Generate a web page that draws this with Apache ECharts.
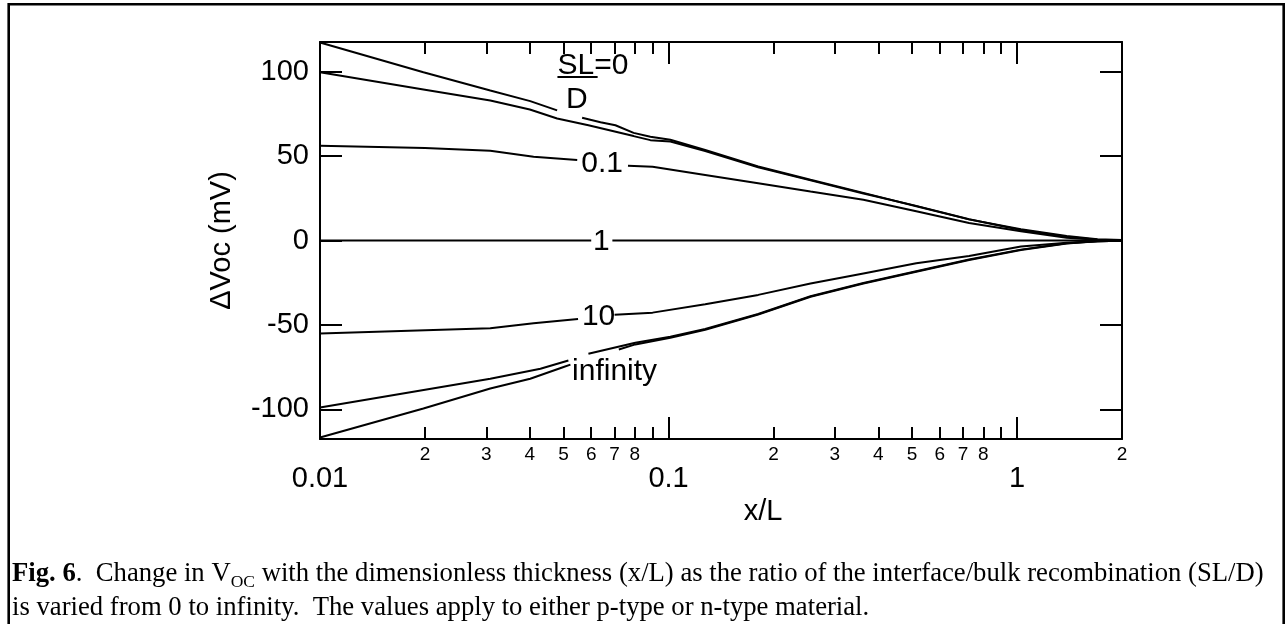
<!DOCTYPE html>
<html><head><meta charset="utf-8">
<script src="https://cdn.jsdelivr.net/npm/echarts@6/dist/echarts.min.js"></script>
<style>html,body{margin:0;padding:0;background:#fff}#c{width:1288px;height:624px}</style>
</head><body><div id="c"></div><script>
// ---- data ----
// null marks a break in the curve where an inline label sits
const x_c0 = [0.01, 0.0198, 0.0308, 0.0401, 0.0479, 0.052, 0.0565, 0.0638, 0.0704, 0.0794, 0.0887, 0.1012, 0.1274, 0.1808, 0.2555, 0.3623, 0.5137, 0.7282, 1.0257, 1.3876, 1.7, 2];
const y_c0 = [117.2, 99.6, 88.8, 82.5, 77.0, null, 72.7, 70.0, 68.2, 63.7, 61.4, 59.6, 53.6, 43.8, 36.0, 28.2, 20.3, 12.5, 6.6, 2.6, 0.7, 0.3];
const x_c1 = [0.01, 0.02, 0.0308, 0.04, 0.0479, 0.0589, 0.0794, 0.0887, 0.1012, 0.1274, 0.1808, 0.2555, 0.3623, 0.5137, 0.7282, 1.0257, 1.3876, 1.7, 2];
const y_c1 = [99.6, 89.3, 82.9, 77.5, 72.2, 68.2, 61.8, 59.4, 58.6, 53.0, 43.4, 35.6, 27.8, 20.5, 12.6, 6.2, 2.2, 0.5, 0.2];
const x_c2 = [0.01, 0.02, 0.0308, 0.041, 0.0547, 0.066, 0.0765, 0.09, 0.1274, 0.1808, 0.2555, 0.3623, 0.5137, 0.7282, 1.0257, 1.3876, 1.7, 2];
const y_c2 = [56.1, 54.8, 53.1, 49.6, 47.6, null, 44.3, 43.7, 38.8, 33.9, 29.0, 24.1, 17.3, 10.4, 5.5, 1.6, 0.4, 0.2];
const x_c3 = [0.01, 0.0600, 0.0645, 0.0690, 2];
const y_c3 = [0, 0, null, 0, 0];
const x_c4 = [0.01, 0.0308, 0.041, 0.055, 0.062, 0.0700, 0.09, 0.1274, 0.1808, 0.2555, 0.3623, 0.5137, 0.7282, 1.0257, 1.3876, 1.7, 2];
const y_c4 = [-55.0, -52.0, -49.0, -46.5, null, -44.0, -42.7, -37.8, -32.2, -25.5, -19.5, -13.5, -9.2, -3.6, -1.3, -0.4, -0.2];
const x_c5 = [0.01, 0.0308, 0.0429, 0.0516, 0.055, 0.0589, 0.0803, 0.1012, 0.1274, 0.1808, 0.2555, 0.3623, 0.5137, 0.7282, 1.0257, 1.3876, 1.7, 2];
const y_c5 = [-98.8, -81.8, -75.9, -71.0, null, -67.0, -60.5, -57.0, -52.4, -43.5, -33.0, -25.2, -18.2, -11.3, -5.4, -1.6, -0.4, -0.2];
const x_c6 = [0.01, 0.0198, 0.0308, 0.0401, 0.05, 0.0523, 0.062, 0.072, 0.0803, 0.1012, 0.1274, 0.1808, 0.2555, 0.3623, 0.5137, 0.7282, 1.0257, 1.3876, 1.7, 2];
const y_c6 = [-116.6, -99.4, -87.6, -81.8, -74.9, -73.5, null, -64.5, -61.5, -57.6, -52.8, -43.8, -33.3, -25.5, -18.5, -11.6, -5.6, -1.8, -0.5, -0.2];

// inline curve labels (anchored in data coordinates)
const labelText = ['SL=0', 'D', '0.1', '1', '10', 'infinity'];
const labelX    = [0.0607, 0.0546, 0.0645, 0.0642, 0.0630, 0.0700];
const labelY    = [103.5, 83.2, 45.3, -1.0, -45.0, -77.6];
// fraction bar under "SL"
const fracBarX = [0.0480, 0.0626];
const fracBarY = [96.8, 96.8];

// axis ticks / labels
const xMajorTicks = [0.01, 0.1, 1, 2];
const xMajorLabels = [0.01, 0.1, 1];
const xMinorTicks = [0.02,0.03,0.04,0.05,0.06,0.07,0.08,0.09,0.2,0.3,0.4,0.5,0.6,0.7,0.8,0.9];
const xMinorLabels = [0.02,0.03,0.04,0.05,0.06,0.07,0.08,0.2,0.3,0.4,0.5,0.6,0.7,0.8,2];
const yTicks = [-100, -50, 0, 50, 100];

const FONT = 'Liberation Sans';
const pts = (xs, ys) => xs.map((x, i) => [x, ys[i] === null ? '-' : ys[i]]);
const curves = [[x_c0,y_c0],[x_c1,y_c1],[x_c2,y_c2],[x_c3,y_c3],[x_c4,y_c4],[x_c5,y_c5],[x_c6,y_c6]];

const chart = echarts.init(document.getElementById('c'), null, {renderer: 'canvas'});
const logBase = {type: 'log', logBase: 10, min: 0.01, max: 2, gridIndex: 0,
  splitLine: {show: false}, minorTick: {show: false}};
const lineStyleAx = {color: '#000', width: 2};
const leadDigit = v => String(Math.round(v / Math.pow(10, Math.floor(Math.log10(v) + 1e-9))));

const option = {
  animation: false,
  backgroundColor: '#fff',
  grid: {left: 320, top: 42, width: 802, height: 397, outerBoundsMode: 'none', containLabel: false},
  xAxis: [
    Object.assign({}, logBase, {position: 'bottom',
      axisLine: {show: true, onZero: false, lineStyle: lineStyleAx},
      axisTick: {show: true, inside: true, length: 22, customValues: xMajorTicks, lineStyle: lineStyleAx},
      axisLabel: {show: true, customValues: xMajorLabels, margin: 25, fontSize: 29, fontFamily: FONT, color: '#000',
        formatter: v => String(+v.toPrecision(3))},
      name: 'x/L', nameLocation: 'middle', nameGap: 45,
      nameTextStyle: {fontSize: 29, fontFamily: FONT, color: '#000', padding: [0, 0, 0, 84]}}),
    Object.assign({}, logBase, {position: 'bottom',
      axisLine: {show: false, onZero: false},
      axisTick: {show: true, inside: true, length: 12, customValues: xMinorTicks, lineStyle: lineStyleAx},
      axisLabel: {show: true, customValues: xMinorLabels, margin: 6, fontSize: 19, fontFamily: FONT, color: '#000',
        formatter: v => leadDigit(v)}}),
    Object.assign({}, logBase, {position: 'top',
      axisLine: {show: true, onZero: false, lineStyle: lineStyleAx},
      axisTick: {show: true, inside: true, length: 22, customValues: [0.1, 1], lineStyle: lineStyleAx},
      axisLabel: {show: false}}),
    Object.assign({}, logBase, {position: 'top',
      axisLine: {show: false, onZero: false},
      axisTick: {show: true, inside: true, length: 12, customValues: xMinorTicks, lineStyle: lineStyleAx},
      axisLabel: {show: false}})
  ],
  yAxis: [
    {type: 'value', min: -117.5, max: 117.5, position: 'left', splitLine: {show: false},
      axisLine: {show: true, onZero: false, lineStyle: lineStyleAx},
      axisTick: {show: true, inside: true, length: 22, customValues: yTicks, lineStyle: lineStyleAx},
      axisLabel: {show: true, customValues: yTicks, margin: 11, fontSize: 29, fontFamily: FONT, color: '#000'},
      name: '\u0394Voc (mV)', nameLocation: 'middle', nameGap: 84, nameRotate: 90,
      nameTextStyle: {fontSize: 29, fontFamily: FONT, color: '#000'}},
    {type: 'value', min: -117.5, max: 117.5, position: 'right', splitLine: {show: false},
      axisLine: {show: true, onZero: false, lineStyle: lineStyleAx},
      axisTick: {show: true, inside: true, length: 22, customValues: yTicks, lineStyle: lineStyleAx},
      axisLabel: {show: false}}
  ],
  series: curves.map((c, i) => ({
    type: 'line', name: 'c' + i, xAxisIndex: 0, yAxisIndex: 0, data: pts(c[0], c[1]),
    showSymbol: false, symbol: 'none', connectNulls: false, smooth: false,
    lineStyle: {color: '#000', width: 2}, z: 2, silent: true
  })).concat([
    {type: 'line', name: 'fracBar', xAxisIndex: 0, yAxisIndex: 0, data: pts(fracBarX, fracBarY),
      symbol: 'none', lineStyle: {color: '#000', width: 2}, silent: true},
    {type: 'scatter', name: 'labels', xAxisIndex: 0, yAxisIndex: 0, symbolSize: 0, z: 10, silent: true,
      itemStyle: {color: '#000', opacity: 0},
      data: labelX.map((x, i) => [x, labelY[i]]),
      label: {show: true, position: 'inside', fontSize: 30, fontFamily: FONT, color: '#000',
        textBorderWidth: 0, textShadowBlur: 0, opacity: 1,
        formatter: p => labelText[p.dataIndex]}}
  ]),
  graphic: [
    {type: 'rect', z: 100, silent: true, shape: {x: 8.7, y: 4.3, width: 1275, height: 700},
      style: {fill: 'none', stroke: '#000', lineWidth: 2.6}},
    {type: 'text', z: 100, silent: true, left: 12, top: 557,
      style: {
        text: '{b|Fig. 6}.  Change in V{s|OC} with the dimensionless thickness (x/L) as the ratio of the interface/bulk recombination (SL/D)\nis varied from 0 to infinity.  The values apply to either p-type or n-type material.',
        fontSize: 26.7, fontFamily: 'Liberation Serif', fill: '#000', lineHeight: 34,
        rich: {
          b: {fontSize: 26.7, fontFamily: 'Liberation Serif', fontWeight: 'bold', lineHeight: 34, fill: '#000'},
          s: {fontSize: 17.5, fontFamily: 'Liberation Serif', lineHeight: 26, verticalAlign: 'bottom', fill: '#000'}
        }
      }}
  ]
};
chart.setOption(option);
</script></body></html>
